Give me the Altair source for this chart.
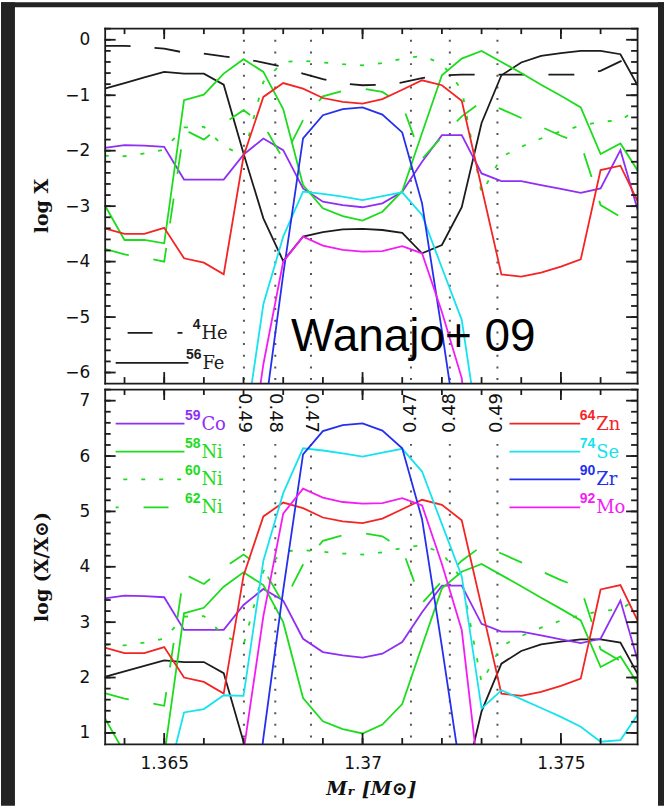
import altair as alt
import pandas as pd

# ---------------- data ----------------
mass = [1.3635, 1.3640, 1.3645, 1.3650, 1.3655, 1.3660, 1.3665, 1.3670, 1.3675, 1.3680,
        1.3685, 1.3690, 1.3695, 1.3700, 1.3705, 1.3710, 1.3715, 1.3720, 1.3725, 1.3730,
        1.3735, 1.3740, 1.3745, 1.3750, 1.3755, 1.3760, 1.3765, 1.3770]

# log X (mass fraction) per zone
he4 = [-0.11, -0.11, -0.13, -0.16, -0.23, -0.25, -0.30, -0.34, -0.41, -0.49, -0.61, -0.71, -0.79, -0.82,
       -0.81, -0.77, -0.69, -0.64, -0.63, -0.63, -0.63, -0.63, -0.63, -0.63, -0.63, -0.56, -0.39, -0.22]
fe56 = [-0.88, -0.78, -0.68, -0.58, -0.61, -0.61, -0.81, -2.05, -3.22, -3.99, -3.55, -3.47, -3.42, -3.41,
        -3.43, -3.48, -3.85, -3.70, -3.02, -1.50, -0.64, -0.41, -0.29, -0.24, -0.20, -0.20, -0.26, -0.91]
co59 = [-1.95, -1.90, -1.91, -1.93, -2.52, -2.52, -2.52, -2.07, -1.78, -1.99, -2.68, -2.92, -2.98, -3.02,
        -2.95, -2.74, -2.20, -1.72, -1.72, -2.41, -2.55, -2.55, -2.62, -2.69, -2.76, -2.68, -1.99, -3.23]
ni58 = [-2.98, -3.61, -3.61, -3.67, -1.09, -0.99, -0.61, -0.35, -0.58, -1.25, -2.62, -3.04, -3.18, -3.26,
        -3.10, -2.73, -1.68, -0.64, -0.34, -0.20, -0.40, -0.60, -0.81, -1.01, -1.22, -2.06, -1.87, -2.43]
ni60 = [-2.09, -2.10, -2.05, -1.98, -1.58, -1.57, -1.92, -2.09, -0.76, -0.40, -0.38, -0.41, -0.44, -0.46,
        -0.42, -0.34, -0.29, -0.43, -0.90, -2.77, -2.11, -1.93, -1.78, -1.65, -1.55, -1.48, -1.45, -1.22]
ni62 = [-3.77, -3.87, -3.93, -4.00, -1.62, -1.80, -1.51, -1.27, -1.53, -2.15, -1.45, -1.02, -0.92, -0.88,
        -0.94, -1.17, -2.15, -1.75, -1.38, -1.12, -1.25, -1.41, -1.57, -1.73, -1.87, -2.98, -3.19, -3.10]
zn64 = [-3.40, -3.50, -3.50, -3.39, -3.94, -4.02, -4.23, -2.10, -1.03, -0.78, -0.88, -1.05, -1.12, -1.15,
        -1.07, -0.90, -0.73, -0.82, -1.10, -2.66, -4.23, -4.27, -4.20, -4.09, -3.96, -2.35, -2.27, -3.01]
se74 = [-9.50, -9.50, -9.50, -8.94, -7.51, -7.45, -7.20, -7.21, -4.77, -3.55, -2.74, -2.78, -2.83, -2.89,
        -2.82, -2.75, -3.16, -4.11, -5.05, -7.44, -7.11, -7.27, -7.43, -7.59, -7.77, -8.04, -8.01, -7.48]
zr90 = [-10.0, -10.0, -10.0, -10.0, -10.0, -10.0, -10.0, -10.0, -6.90, -4.23, -1.78, -1.36, -1.25, -1.22,
        -1.35, -1.67, -2.95, -5.25, -7.65, -10.0, -10.0, -10.0, -10.0, -10.0, -10.0, -10.0, -10.0, -10.0]
mo92 = [-10.0, -10.0, -10.0, -10.0, -10.0, -10.0, -10.0, -8.30, -5.85, -4.00, -3.55, -3.71, -3.79, -3.82,
        -3.81, -3.72, -3.85, -4.91, -6.10, -9.20, -10.0, -10.0, -10.0, -10.0, -10.0, -10.0, -10.0, -10.0]

species = ["He4", "Fe56", "Co59", "Ni58", "Ni60", "Ni62", "Zn64", "Se74", "Zr90", "Mo92"]
log_x = [he4, fe56, co59, ni58, ni60, ni62, zn64, se74, zr90, mo92]
# solar log X of each species (bottom panel shows log X - log X_sun); He4 not shown there
log_x_solar = [None, -2.89, -5.38, -4.25, -4.68, -5.49, -5.94, -8.88, -7.81, -8.96]

colors = ["#1c1c1c", "#1c1c1c", "#8f2ff5", "#1ddc1d", "#1ddc1d", "#1ddc1d",
          "#f52424", "#16e3ee", "#2430ee", "#f41cf4"]
styles = ["dash", "solid", "solid", "solid", "dot", "dash", "solid", "solid", "solid", "solid"]

ye_mass = [1.36701, 1.36780, 1.36870, 1.37122, 1.37220, 1.37340]
ye_label = ["0.49", "0.48", "0.47", "0.47", "0.48", "0.49"]

sup_text = ["4", "56", "59", "58", "60", "62", "64", "74", "90", "92"]
elem_text = ["He", "Fe", "Co", "Ni", "Ni", "Ni", "Zn", "Se", "Zr", "Mo"]

x_major = [1.365, 1.37, 1.375]
y_major_top = [-6, -5, -4, -3, -2, -1, 0]
y_major_bot = [1, 2, 3, 4, 5, 6, 7]

# ---------------- layout ----------------
W, H = 534, 356
X_DOMAIN = [1.3635, 1.37692]
TOP_DOMAIN = [-6.19, 0.21]
BOT_DOMAIN = [0.80, 7.21]
DASH = {"dash": [25, 25], "dot": [4, 14]}
INK = "#1c1c1c"
FRAME_BG = "#232323"
MINOR_LEN, MAJOR_LEN, TICK_W = 6, 11, 1.8

x_minor = [round(1.364 + 0.001 * i, 3) for i in range(13)]
y_minor_top = [round(-6.0 + 0.2 * i, 1) for i in range(32)]
y_minor_bot = [round(1.0 + 0.2 * i, 1) for i in range(32)]

xscale = alt.Scale(domain=X_DOMAIN, nice=False, zero=False)
one = pd.DataFrame({"a": [0]})


def legend_entry(x0, x1, yl, idx, xt, dash_offset=0):
    col = colors[idx]
    kw = dict(color=col, strokeWidth=1.8)
    if styles[idx] != "solid":
        kw["strokeDash"] = DASH[styles[idx]]
        kw["strokeDashOffset"] = dash_offset
    line = alt.Chart(one).mark_rule(**kw).encode(
        x=alt.value(x0), x2=alt.value(x1), y=alt.value(yl))
    sup = alt.Chart(one).mark_text(text=sup_text[idx], align="right", baseline="alphabetic",
                                   font="Liberation Sans", fontWeight="bold", fontSize=14,
                                   color=col).encode(x=alt.value(xt - 1), y=alt.value(yl - 4))
    el = alt.Chart(one).mark_text(text=elem_text[idx], align="left", baseline="alphabetic",
                                  font="DejaVu Serif", fontSize=18,
                                  color=col).encode(x=alt.value(xt), y=alt.value(yl + 6))
    return [line, sup, el]


def build_panel(is_bottom):
    ydom = BOT_DOMAIN if is_bottom else TOP_DOMAIN
    yscale = alt.Scale(domain=ydom, nice=False, zero=False)
    y_major = y_major_bot if is_bottom else y_major_top
    y_minor = y_minor_bot if is_bottom else y_minor_top
    layers = []

    if not is_bottom:
        # dark surround of the figure (left, top and right bands)
        for bx0, bx1, by0, by1 in [(-104, -90, -26, 780), (-104, 561, -26, -21), (555, 561, -26, 780)]:
            layers.append(alt.Chart(one).mark_rect(color=FRAME_BG, clip=False).encode(
                x=alt.value(bx0), x2=alt.value(bx1), y=alt.value(by0), y2=alt.value(by1)))

    # Ye contour dotted lines
    ye_df = pd.DataFrame({"m": ye_mass, "label": ye_label})
    layers.append(alt.Chart(ye_df).mark_rule(color="#555555", strokeWidth=2, strokeDash=[2, 9.7]).encode(
        x=alt.X("m:Q", scale=xscale, axis=None),
        y=alt.value(55 if is_bottom else 0), y2=alt.value(H)))

    # abundance curves
    for i, sp in enumerate(species):
        if is_bottom and log_x_solar[i] is None:
            continue
        vals = log_x[i]
        if is_bottom:
            vals = [round(v - log_x_solar[i], 3) for v in vals]
        df = pd.DataFrame({"m": mass, "v": vals})
        kw = dict(color=colors[i], strokeWidth=1.8, clip=True)
        if styles[i] != "solid":
            kw["strokeDash"] = [26, 24] if sp == "He4" else DASH[styles[i]]
        layers.append(alt.Chart(df).mark_line(**kw).encode(
            x=alt.X("m:Q", scale=xscale, axis=None),
            y=alt.Y("v:Q", scale=yscale, axis=None)))

    if is_bottom:
        left = ye_df.iloc[:3]
        right = ye_df.iloc[3:]
        layers.append(alt.Chart(left).mark_text(angle=90, align="left", baseline="middle",
                                                font="DejaVu Sans", fontSize=18, color="#111").encode(
            x=alt.X("m:Q", scale=xscale, axis=None), y=alt.value(4), text="label:N"))
        layers.append(alt.Chart(right).mark_text(angle=270, align="right", baseline="middle",
                                                 font="DejaVu Sans", fontSize=18, color="#111").encode(
            x=alt.X("m:Q", scale=xscale, axis=None), y=alt.value(4), text="label:N"))
        rows = [34.7, 62.7, 90.7, 118.7]
        for r, idx in enumerate([2, 3, 4, 5]):
            off = {4: 10.3, 5: 22}.get(idx, 0)
            layers += legend_entry(11, 80, rows[r], idx, 97, off)
        for r, idx in enumerate([6, 7, 8, 9]):
            layers += legend_entry(406, 477, rows[r], idx, 493)
    else:
        layers += legend_entry(11, 78, 305.7, 0, 97, 38)
        layers += legend_entry(11, 84, 335.7, 1, 98)
        layers.append(alt.Chart(one).mark_text(text="Wanajo+ 09", align="left", baseline="alphabetic",
                                               font="Liberation Sans", fontSize=46, color="black").encode(
            x=alt.value(187), y=alt.value(323.5)))

    # inward tick marks on all four sides, placed through the scales
    for vals, ln in [(x_minor, MINOR_LEN), (x_major, MAJOR_LEN)]:
        tdf = pd.DataFrame({"m": vals})
        for ya_, yb_ in [(H - ln, H), (0, ln)]:
            layers.append(alt.Chart(tdf).mark_rule(color=INK, strokeWidth=TICK_W).encode(
                x=alt.X("m:Q", scale=xscale, axis=None), y=alt.value(ya_), y2=alt.value(yb_)))
    for vals, ln in [(y_minor, MINOR_LEN), (y_major, MAJOR_LEN)]:
        tdf = pd.DataFrame({"v": vals})
        for xa_, xb_ in [(0, ln), (W - ln, W)]:
            layers.append(alt.Chart(tdf).mark_rule(color=INK, strokeWidth=TICK_W).encode(
                y=alt.Y("v:Q", scale=yscale, axis=None), x=alt.value(xa_), x2=alt.value(xb_)))

    # axes: frame lines and labels
    anchor = pd.DataFrame({"m": [1.37], "v": [(ydom[0] + ydom[1]) / 2]})
    xa = alt.Axis(orient="bottom", values=x_major, format="~g", labels=is_bottom, ticks=False,
                  domain=True, domainCap="square", labelPadding=12,
                  title="Mᵣ [M⊙]" if is_bottom else None, titleX=W / 2, titleY=51,
                  titleFont="DejaVu Serif", titleFontStyle="italic", titleFontSize=19,
                  titleFontWeight="bold", titleBaseline="alphabetic", grid=False, zindex=1)
    ya = alt.Axis(orient="left", values=y_major, format="d", ticks=False, domain=True,
                  domainCap="square", labelPadding=15,
                  title="log (X/X⊙)" if is_bottom else "log X",
                  titleX=-63, titleY=H / 2, titleAngle=270, titleAlign="center",
                  titleBaseline="middle", titleFont="DejaVu Serif", titleFontSize=19,
                  titleFontWeight="bold", grid=False, zindex=1)
    xc = alt.Axis(orient="bottom", offset=-H, values=x_major, labels=False, domain=True,
                  domainCap="square", ticks=False, title=None, grid=False, zindex=1)
    yc = alt.Axis(orient="left", offset=-W, values=y_major, labels=False, domain=True,
                  domainCap="square", ticks=False, title=None, grid=False, zindex=1)
    for ax_x, ax_y in [(xa, ya), (xc, yc)]:
        layers.append(alt.Chart(anchor).mark_point(opacity=0).encode(
            x=alt.X("m:Q", scale=xscale, axis=ax_x),
            y=alt.Y("v:Q", scale=yscale, axis=ax_y)))

    return alt.layer(*layers).resolve_axis(x="independent", y="independent").properties(
        width=W, height=H)


top = build_panel(False)
bottom = build_panel(True)

chart = alt.vconcat(top, bottom, spacing=6, bounds="flush").properties(
    padding=0,
    background="white",
).configure_view(stroke="transparent").configure_axis(
    labelFont="DejaVu Sans", labelFontSize=17, labelColor="#111",
    titleColor="#111", domainColor=INK, domainWidth=1.8,
)

chart.save("out.html", embed_options={"renderer": "svg", "actions": False})
